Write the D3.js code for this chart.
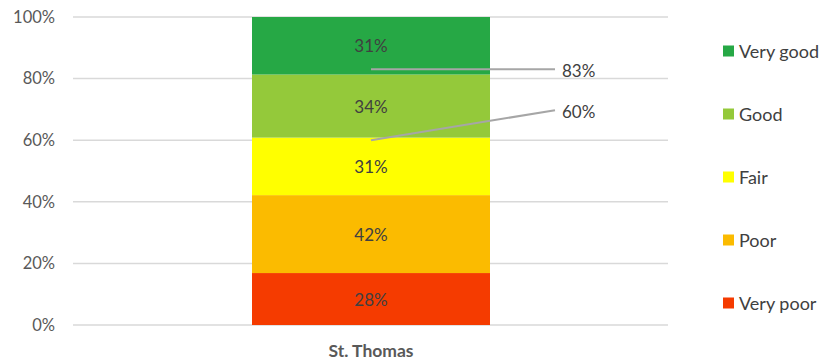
<!DOCTYPE html>
<html><head><meta charset="utf-8">
<script src="https://cdn.jsdelivr.net/npm/d3@7"></script>
<style>body{margin:0;background:#fff}svg{display:block}text{font-family:Lato,"Open Sans",sans-serif}</style>
</head><body><svg id="c" width="820" height="362"></svg>
<script>
const categories = ["St. Thomas"];
const seriesNames = ["Very poor","Poor","Fair","Good","Very good"];
const seriesValues = [28, 42, 31, 34, 31];
const seriesColors = ["#f53b00","#fbbb00","#ffff00","#94c93a","#26a845"];
const yTicks = [0, 0.2, 0.4, 0.6, 0.8, 1.0];
const annotations = [{value: 0.83, label: "83%", dy: 0}, {value: 0.60, label: "60%", dy: 30}];

(function(){
const svg = d3.select("#c");
const pLeft = 73, pRight = 668, pTop = 17, pBottom = 325;
const y = d3.scaleLinear().domain([0, 1]).range([pBottom, pTop]);
const bx0 = 252, bx1 = 490;
const xb = d3.scaleBand().domain(categories).range([bx0 - 10, bx1 + 10]).padding(0);

svg.append("g").selectAll("line").data(yTicks).join("line")
  .attr("x1", pLeft).attr("x2", pRight)
  .attr("y1", d => y(d)).attr("y2", d => y(d))
  .attr("stroke", "#d9d9d9").attr("stroke-width", 1.5);

const yAxis = d3.axisLeft(y).tickValues(yTicks).tickFormat(d3.format(".0%")).tickSize(0).tickPadding(18);
const ga = svg.append("g").attr("transform", `translate(${pLeft},0)`).call(yAxis);
ga.select(".domain").remove();
ga.selectAll("text").attr("fill", "#595959").style("font-size", "16.5px").style("font-family", "Lato, sans-serif");

const total = d3.sum(seriesValues);
let cum = 0;
const segs = seriesValues.map((v, i) => { const s = {name: seriesNames[i], v, y0: cum / total, y1: (cum + v) / total, color: seriesColors[i]}; cum += v; return s; });
const bw = bx1 - bx0;
const xc = xb(categories[0]) + xb.bandwidth() / 2;
svg.append("g").selectAll("rect").data(segs).join("rect")
  .attr("x", xc - bw / 2).attr("width", bw)
  .attr("y", d => y(d.y1)).attr("height", d => y(d.y0) - y(d.y1))
  .attr("fill", d => d.color);
svg.append("g").selectAll("text").data(segs).join("text")
  .attr("x", xc).attr("y", d => (y(d.y0) + y(d.y1)) / 2)
  .attr("text-anchor", "middle").attr("dominant-baseline", "central")
  .attr("fill", "#404040").style("font-size", "17px")
  .text(d => d.v + "%");

const ann = svg.append("g");
annotations.forEach(a => {
  const yy = y(a.value);
  ann.append("line").attr("x1", xc).attr("y1", yy).attr("x2", 555).attr("y2", yy - a.dy)
    .attr("stroke", "#a6a6a6").attr("stroke-width", 2);
  ann.append("text").attr("x", 562).attr("y", yy - a.dy + 1).attr("dominant-baseline", "central")
    .attr("fill", "#404040").style("font-size", "17px").text(a.label);
});

svg.append("text").attr("x", xc).attr("y", 350).attr("text-anchor", "middle").attr("dominant-baseline", "central")
  .attr("fill", "#595959").style("font-size", "17.5px").style("font-weight", "bold").text(categories[0]);

const legendY = [303, 240, 177, 114, 51];
const lg = svg.append("g");
segs.forEach((s, i) => {
  lg.append("rect").attr("x", 723).attr("y", legendY[i] - 5.5).attr("width", 11).attr("height", 11).attr("fill", s.color);
  lg.append("text").attr("x", 739).attr("y", legendY[i]).attr("dominant-baseline", "central")
    .attr("fill", "#404040").style("font-size", "18px").text(s.name);
});
})();
</script></body></html>
